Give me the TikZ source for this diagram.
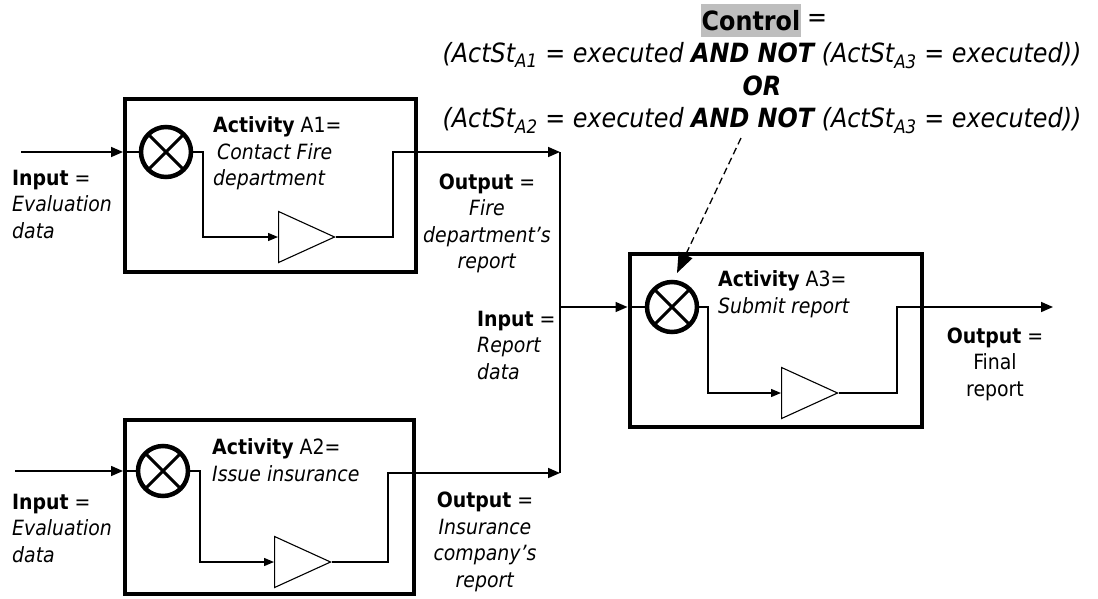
\documentclass[tikz,border=0pt]{standalone}
\usepackage{fontspec}
\setmainfont{DejaVuSansCondensed}[Extension=.ttf, BoldFont=*-Bold, ItalicFont=*-Oblique, BoldItalicFont=*-BoldOblique]
\usetikzlibrary{arrows.meta,shapes.geometric}
\definecolor{ctlgray}{RGB}{190,190,190}
\begin{document}
\begin{tikzpicture}[x=1pt,y=-1pt,
  abox/.style={draw, line width=4pt, inner sep=0pt},
  xcirc/.style={circle, draw, line width=4.5pt, minimum size=50pt, inner sep=0pt},
  amp/.style={isosceles triangle, isosceles triangle stretches, draw, line width=1.1pt, minimum height=56pt, minimum width=51pt, inner sep=0pt, anchor=apex},
  inner/.style={line width=1.3pt},
  smallarr/.style={inner, -{Triangle[length=10pt,width=8pt]}},
  flowarr/.style={line width=1.6pt, -{Triangle[length=12pt,width=10pt]}},
  flow/.style={line width=1.6pt},
  xline/.style={line width=3pt},
  lbl/.style={font=\fontsize{21}{26.5}\selectfont, inner sep=0pt},
  ctltext/.style={font=\fontsize{26.5}{32.5}\selectfont, inner sep=0pt}
]
\useasboundingbox (0,0) rectangle (1098,598);

% boxes
\node[abox, minimum width=291pt, minimum height=173pt] (b1) at (270.5,185.5) {};
\node[abox, minimum width=289pt, minimum height=174pt] (b2) at (269.5,507) {};
\node[abox, minimum width=292.5pt, minimum height=172.5pt] (b3) at (775.75,340.25) {};

% circles
\node[xcirc] (c1) at (166,152) {};
\node[xcirc] (c2) at (163,471) {};
\node[xcirc] (c3) at (672,307) {};
\foreach \c in {c1,c2,c3}{
  \draw[xline] (\c.center) +(-17.5,-17.5) -- +(17.5,17.5);
  \draw[xline] (\c.center) +(-17.5,17.5) -- +(17.5,-17.5);
}

% amplifiers
\node[amp] (t1) at (336,237) {};
\node[amp] (t2) at (332,562) {};
\node[amp] (t3) at (839,393) {};

% coordinates
\coordinate (in1) at (21,152);
\coordinate (in2) at (15,471);
\coordinate (o1) at (560,152);
\coordinate (o2) at (560,473);
\coordinate (j3) at (560,307);
\coordinate (out3) at (1053,307);
\coordinate (ctls) at (741,138);
\coordinate (ctle) at (677,273);

% A1 flows
\draw[flowarr] (in1) -- (b1.west |- c1.center);
\draw[inner] (b1.west |- c1.center) -- (c1.west);
\draw[smallarr] (c1.east) -- (203,152) |- (t1.west);
\draw[flowarr] (t1.apex) -| (393,152) -- (o1);

% A2 flows
\draw[flowarr] (in2) -- (b2.west |- c2.center);
\draw[inner] (b2.west |- c2.center) -- (c2.west);
\draw[smallarr] (c2.east) -- (200,471) |- (t2.west);
\draw[flowarr] (t2.apex) -| (388,473) -- (o2);

% junction
\draw[flow] (o1) -- (o2);

% A3 flows
\draw[flowarr] (j3) -- (b3.west |- c3.center);
\draw[inner] (b3.west |- c3.center) -- (c3.west);
\draw[smallarr] (c3.east) -- (708,307) |- (t3.west);
\draw[flowarr] (t3.apex) -| (897,307) -- (out3);

% control
\draw[line width=1.3pt, dash pattern=on 7pt off 4pt, -{Triangle[length=20pt,width=15pt]}] (ctls) -- (ctle);

% labels
\node[lbl, anchor=west, align=left] (inlab1) at (12,204) {\textbf{Input} =\\\textit{Evaluation}\\\textit{data}};
\node[lbl, anchor=west, align=left] (inlab2) at (12,528) {\textbf{Input} =\\\textit{Evaluation}\\\textit{data}};
\node[lbl, anchor=west, align=left] (act1) at (213,153.5) {\textbf{Activity} A1=\\\hspace*{4pt}\textit{Contact Fire}\\\textit{department}};
\node[lbl, anchor=west, align=left] (act2) at (212,460) {\textbf{Activity} A2=\\\textit{Issue insurance}};
\node[lbl, anchor=west, align=left] (act3) at (718,294) {\textbf{Activity} A3=\\\textit{Submit report}};
\node[lbl, align=center] (outlab1) at (487,223.5) {\textbf{Output} =\\\textit{Fire}\\\textit{department’s}\\\textit{report}};
\node[lbl, align=center] (outlab2) at (485,542) {\textbf{Output} =\\\textit{Insurance}\\\textit{company’s}\\\textit{report}};
\node[lbl, anchor=west, align=left] (inlab3) at (477,345) {\textbf{Input} =\\\textit{Report}\\\textit{data}};
\node[lbl, align=center] (outlab3) at (995,364) {\textbf{Output} =\\Final\\report};

\node[ctltext, fill=ctlgray, minimum height=33pt, inner xsep=0.5pt, font=\fontsize{26.5}{32.5}\selectfont\bfseries] (ctlword) at (751,20.5) {Control};
\node[ctltext, anchor=west] (ctleq) at ([xshift=6pt]ctlword.east) {=};
\node[ctltext, align=center, font=\fontsize{26.5}{32.5}\selectfont\itshape] (expr) at (762,88) {(ActSt\textsubscript{A1} = executed \textbf{AND NOT} (ActSt\textsubscript{A3} = executed))\\\textbf{OR}\\(ActSt\textsubscript{A2} = executed \textbf{AND NOT} (ActSt\textsubscript{A3} = executed))};
\end{tikzpicture}
\end{document}
